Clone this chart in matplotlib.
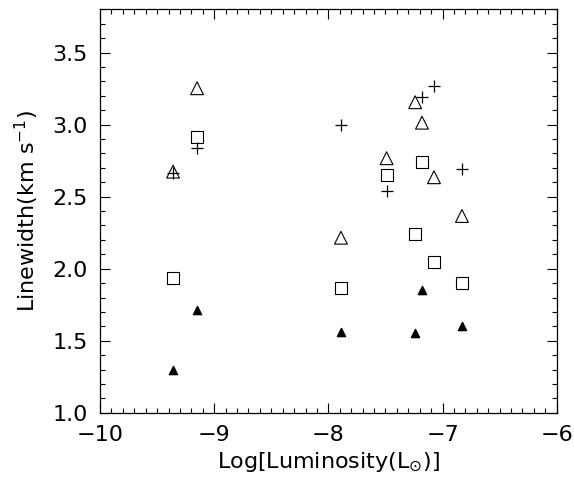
import matplotlib.pyplot as plt
from matplotlib.ticker import MultipleLocator

# Log luminosity of each source
lum_tri = [-9.36, -9.15, -7.89, -7.49, -7.24, -7.18, -7.075, -6.83]
width_tri = [2.674, 3.253, 2.215, 2.767, 3.156, 3.014, 2.635, 2.366]

lum_sq = [-9.36, -9.15, -7.89, -7.49, -7.24, -7.18, -7.075, -6.83]
width_sq = [1.933, 2.912, 1.868, 2.651, 2.239, 2.739, 2.049, 1.899]

lum_plus = [-9.36, -9.15, -7.89, -7.49, -7.18, -7.075, -6.83]
width_plus = [2.663, 2.836, 3.0, 2.54, 3.194, 3.269, 2.69]

lum_fill = [-9.36, -9.15, -7.89, -7.24, -7.18, -6.83]
width_fill = [1.30, 1.713, 1.5625, 1.551, 1.852, 1.602]

fig = plt.figure(figsize=(5.74, 4.86), dpi=100)
ax = fig.add_axes([0.1742, 0.1508, 0.7957, 0.8297])

ax.scatter(lum_tri, width_tri, marker="^", s=85, facecolors="none", edgecolors="black", linewidths=0.8)
ax.scatter(lum_sq, width_sq, marker="s", s=75, facecolors="none", edgecolors="black", linewidths=0.8)
ax.scatter(lum_plus, width_plus, marker="+", s=85, color="black", linewidths=0.9)
ax.scatter(lum_fill, width_fill, marker="^", s=35, color="black")

ax.set_xlim(-10, -6)
ax.set_ylim(1.0, 3.8)
ax.xaxis.set_major_locator(MultipleLocator(1))
ax.xaxis.set_minor_locator(MultipleLocator(0.1))
ax.yaxis.set_major_locator(MultipleLocator(0.5))
ax.yaxis.set_minor_locator(MultipleLocator(0.1))
ax.tick_params(which="both", direction="in", top=True, right=True, labelsize=16, pad=9, width=0.8)
ax.tick_params(which="major", length=7)
ax.tick_params(which="minor", length=3.5)
ax.yaxis.set_major_formatter(plt.FuncFormatter(lambda v, p: f"{v:.1f}"))
for sp in ax.spines.values():
    sp.set_linewidth(0.9)

ax.set_xlabel(r"Log[Luminosity(L$_{\odot}$)]", fontsize=16, labelpad=4)
ax.set_ylabel(r"Linewidth(km s$^{-1}$)", fontsize=16, labelpad=8)

fig.savefig("out.png", dpi=100)
